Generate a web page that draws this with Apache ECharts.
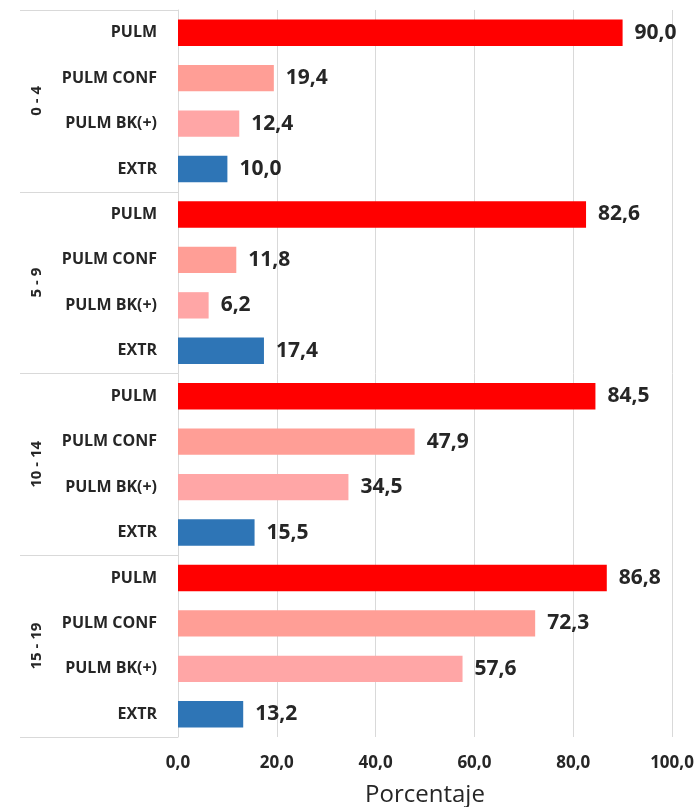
<!DOCTYPE html>
<html>
<head>
<meta charset="utf-8">
<script src="https://cdn.jsdelivr.net/npm/echarts@6/dist/echarts.min.js"></script>
<style>
  html, body { margin: 0; padding: 0; background: #fff; }
  #chart { width: 700px; height: 807px; }
</style>
</head>
<body>
<div id="chart"></div>
<script>
  // grupos de edad y tipos
  var grupos = ['0 - 4', '5 - 9', '10 - 14', '15 - 19'];
  var tipos = ['PULM', 'PULM CONF', 'PULM BK(+)', 'EXTR'];
  var colores = ['#ff0000', '#ff9e96', '#ffa6a6', '#2e75b6'];

  var valores0a4 = [90.0, 19.4, 12.4, 10.0];
  var valores5a9 = [82.6, 11.8, 6.2, 17.4];
  var valores10a14 = [84.5, 47.9, 34.5, 15.5];
  var valores15a19 = [86.8, 72.3, 57.6, 13.2];

  var xTicks = [0, 20, 40, 60, 80, 100];

  var porGrupo = [valores0a4, valores5a9, valores10a14, valores15a19];
  var categorias = [];
  var datos = [];
  porGrupo.forEach(function (vals) {
    vals.forEach(function (v, i) {
      categorias.push(tipos[i]);
      datos.push({ value: v, itemStyle: { color: colores[i] } });
    });
  });

  function coma(v) {
    return Number(v).toFixed(1).replace('.', ',');
  }

  var fuente = '"Open Sans", sans-serif';
  var chart = echarts.init(document.getElementById('chart'));
  chart.setOption({
    animation: false,
    textStyle: { fontFamily: fuente },
    grid: { left: 178, right: 28, top: 10, bottom: 70, outerBoundsMode: 'none' },
    xAxis: {
      type: 'value',
      min: xTicks[0],
      max: xTicks[xTicks.length - 1],
      interval: 20,
      name: 'Porcentaje',
      nameLocation: 'middle',
      nameGap: 46,
      nameTextStyle: { fontSize: 24, color: '#262626', fontFamily: fuente },
      axisLine: { show: false },
      axisTick: { show: false },
      axisLabel: {
        fontSize: 17, fontWeight: 'bold', color: '#262626', margin: 18,
        formatter: function (v) { return coma(v); }
      },
      splitLine: { lineStyle: { color: '#d9d9d9', width: 1 } }
    },
    yAxis: [
      {
        type: 'category',
        inverse: true,
        data: categorias,
        axisLine: { lineStyle: { color: '#d9d9d9' } },
        axisTick: { show: false },
        axisLabel: { fontSize: 16, fontWeight: 'bold', color: '#262626', margin: 21 }
      },
      {
        type: 'category',
        inverse: true,
        position: 'left',
        data: grupos,
        axisLine: { show: false },
        axisTick: { show: true, length: 158, lineStyle: { color: '#d9d9d9' } },
        axisLabel: {
          rotate: 90, fontSize: 15, fontWeight: 'bold', color: '#262626', margin: 134
        }
      }
    ],
    series: [
      {
        type: 'bar',
        yAxisIndex: 0,
        data: datos,
        barWidth: '58%',
        label: {
          show: true,
          position: 'right',
          distance: 12,
          fontSize: 21,
          fontWeight: 'bold',
          color: '#262626',
          formatter: function (p) { return coma(p.value); }
        }
      }
    ]
  });
</script>
</body>
</html>
